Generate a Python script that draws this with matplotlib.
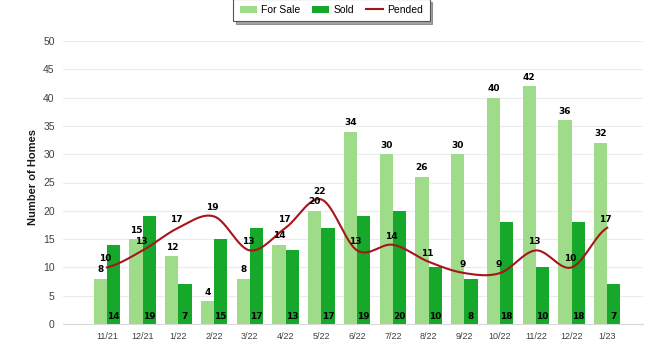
import numpy as np
import matplotlib
matplotlib.use("Agg")
import matplotlib.pyplot as plt
from matplotlib.patches import Patch
from matplotlib.lines import Line2D

categories = ["11/21", "12/21", "1/22", "2/22", "3/22", "4/22", "5/22", "6/22",
              "7/22", "8/22", "9/22", "10/22", "11/22", "12/22", "1/23"]
for_sale = [8, 15, 12, 4, 8, 14, 20, 34, 30, 26, 30, 40, 42, 36, 32]
sold = [14, 19, 7, 15, 17, 13, 17, 19, 20, 10, 8, 18, 10, 18, 7]
pended = [10, 13, 17, 19, 13, 17, 22, 13, 14, 11, 9, 9, 13, 10, 17]
yticks = list(range(0, 55, 5))

c_sale = "#9fdc8a"
c_sold = "#16a82a"
c_pend = "#a8141c"

W, H = 657, 348
fig = plt.figure(figsize=(W / 100, H / 100), dpi=100)
ax = fig.add_axes([63 / W, (H - 324) / H, (643 - 63) / W, (324 - 41) / H])

lab_font = ["Liberation Sans Narrow", "DejaVu Sans"]
txt_font = ["Liberation Sans", "DejaVu Sans"]

x = np.arange(len(categories))
bw = 0.37
ax.bar(x - bw / 2, for_sale, bw, color=c_sale, zorder=2)
ax.bar(x + bw / 2, sold, bw, color=c_sold, zorder=2)


def catmull(xs, ys, n=30):
    xs = np.asarray(xs, float)
    ys = np.asarray(ys, float)
    px = np.concatenate([[2 * xs[0] - xs[1]], xs, [2 * xs[-1] - xs[-2]]])
    py = np.concatenate([[ys[0]], ys, [ys[-1]]])
    ox, oy = [], []
    for i in range(1, len(px) - 2):
        t = np.linspace(0, 1, n, endpoint=False)
        for p, o in ((px, ox), (py, oy)):
            p0, p1, p2, p3 = p[i - 1], p[i], p[i + 1], p[i + 2]
            b1 = p1 + (p2 - p0) / 6
            b2 = p2 - (p3 - p1) / 6
            o.extend((1 - t) ** 3 * p1 + 3 * (1 - t) ** 2 * t * b1
                     + 3 * (1 - t) * t ** 2 * b2 + t ** 3 * p2)
    ox.append(xs[-1])
    oy.append(ys[-1])
    return np.array(ox), np.array(oy)


sx, sy = catmull(x, pended)
ax.plot(sx, sy, color=c_pend, lw=1.5, zorder=3)

for i in range(len(categories)):
    ax.text(x[i] - bw / 2, for_sale[i] + 0.8, str(for_sale[i]), ha="center",
            va="bottom", fontsize=6.5, fontweight="bold", family=lab_font, zorder=4)
    ax.text(x[i] + bw / 2, 1.4, str(sold[i]), ha="center", va="center",
            fontsize=6.5, fontweight="bold", family=lab_font, zorder=4)
    ax.text(x[i] - 0.05, pended[i] + 0.7, str(pended[i]), ha="center",
            va="bottom", fontsize=6.5, fontweight="bold", family=lab_font, zorder=4)

ax.set_xlim(-1.23, 15.0)
ax.set_ylim(0, 50)
ax.set_yticks(yticks)
ax.set_xticks(x)
ax.set_xticklabels(categories, fontsize=6.5, color="#404040", family=txt_font)
for lbl in ax.get_yticklabels():
    lbl.set_family(txt_font)
ax.tick_params(axis="y", labelsize=7.5, labelcolor="#404040", length=0, pad=6)
ax.tick_params(axis="x", length=0, pad=6)
ax.grid(axis="y", color="#ececec", lw=0.8, zorder=0)
for s in ["top", "right", "left"]:
    ax.spines[s].set_visible(False)
ax.spines["bottom"].set_color("#d9d9d9")
ax.set_axisbelow(True)

fig.text(32.5 / W, (H - 177) / H, "Number of Homes", rotation=90, ha="center",
         va="center", fontsize=8, fontweight="bold", color="#1a1a1a", family=txt_font)

handles = [Patch(facecolor=c_sale, label="For Sale"),
           Patch(facecolor=c_sold, label="Sold"),
           Line2D([], [], color=c_pend, lw=1.5, label="Pended")]
leg = fig.legend(handles=handles, loc="center", bbox_to_anchor=(331.5 / W, (H - 10) / H),
                 ncol=3, frameon=True, fancybox=False, shadow=True,
                 prop={"family": txt_font, "size": 7.5},
                 handlelength=1.65, handleheight=0.7, columnspacing=1.15,
                 handletextpad=0.4, borderpad=0.6)
leg.get_frame().set_edgecolor("#555555")
leg.get_frame().set_linewidth(0.8)

fig.savefig("out.png", dpi=100)
